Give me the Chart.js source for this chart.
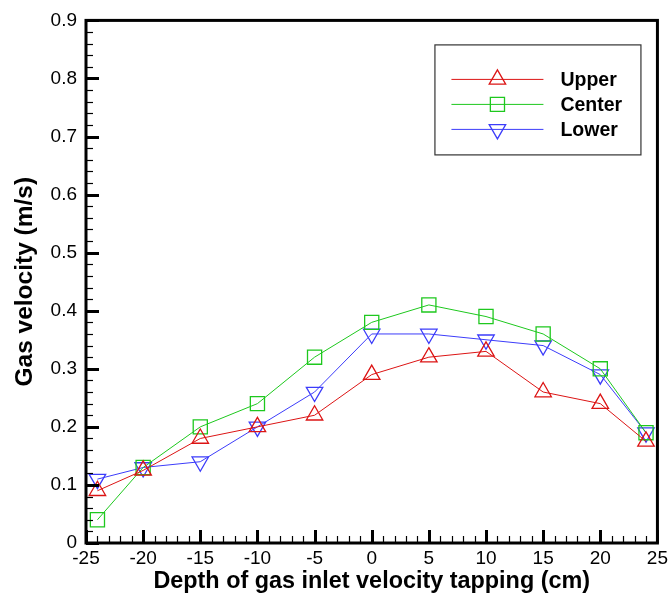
<!DOCTYPE html>
<html>
<head>
<meta charset="utf-8">
<script src="https://cdn.jsdelivr.net/npm/chart.js@4/dist/chart.umd.min.js"></script>
<style>
  body { margin: 0; background: #fff; }
  canvas { display: block; }
</style>
</head>
<body>
<canvas id="myChart" width="672" height="596"></canvas>
<script>
    // depth positions (cm) and measured velocities (m/s)
    const depths = [-24, -20, -15, -10, -5, 0, 5, 10, 15, 20, 24];
    const upper  = [0.09, 0.125, 0.18, 0.20, 0.22, 0.29, 0.32, 0.33, 0.26, 0.24, 0.175];
    const center = [0.04, 0.13, 0.20, 0.24, 0.32, 0.38, 0.41, 0.39, 0.36, 0.30, 0.19];
    const lower  = [0.11, 0.13, 0.14, 0.20, 0.26, 0.36, 0.36, 0.35, 0.34, 0.29, 0.19];

    const xTicks = [-25, -20, -15, -10, -5, 0, 5, 10, 15, 20, 25];
    const yTicks = [0, 0.1, 0.2, 0.3, 0.4, 0.5, 0.6, 0.7, 0.8, 0.9];

    const FONT = 'Arial, "Liberation Sans", sans-serif';

    const toPoints = (vals) => depths.map((d, i) => ({ x: d, y: vals[i] }));

    const series = [
      { label: 'Upper',  vals: upper,  color: 'rgb(220, 20, 20)', style: 'triangle', rot: 0,   r: 9.5 },
      { label: 'Center', vals: center, color: 'rgb(30, 200, 30)', style: 'rect',     rot: 0,   r: 10 },
      { label: 'Lower',  vals: lower,  color: 'rgb(60, 60, 250)', style: 'triangle', rot: 180, r: 9.5 },
    ];

    const data = {
      datasets: series.map(s => ({
        label: s.label,
        data: toPoints(s.vals),
        borderColor: s.color,
        backgroundColor: 'rgba(0,0,0,0)',
        borderWidth: 1,
        pointStyle: s.style,
        pointRotation: s.rot,
        pointRadius: s.r,
        pointBorderWidth: 1.3,
        pointBorderColor: s.color,
        pointBackgroundColor: 'rgba(0,0,0,0)',
        tension: 0,
      })),
    };

    // box frame plus inward ticks (major + minor) on left and bottom
    const framePlugin = {
      id: 'frame',
      afterDatasetsDraw(chart) {
        const { ctx, chartArea: a, scales: { x, y } } = chart;
        ctx.save();
        ctx.strokeStyle = '#000';
        ctx.lineWidth = 1.2;
        for (let i = 0; i <= 50; i++) {
          const px = Math.round(x.getPixelForValue(-25 + i)) + 0.5;
          ctx.beginPath(); ctx.moveTo(px, a.bottom); ctx.lineTo(px, a.bottom - 7); ctx.stroke();
        }
        for (let i = 0; i <= 45; i++) {
          const py = Math.round(y.getPixelForValue(i * 0.02)) + 0.5;
          ctx.beginPath(); ctx.moveTo(a.left, py); ctx.lineTo(a.left + 7, py); ctx.stroke();
        }
        ctx.lineWidth = 3;
        xTicks.forEach(v => {
          const px = Math.round(x.getPixelForValue(v)) + 0.5;
          ctx.beginPath(); ctx.moveTo(px, a.bottom); ctx.lineTo(px, a.bottom - 13); ctx.stroke();
        });
        yTicks.forEach(v => {
          const py = Math.round(y.getPixelForValue(v)) + 0.5;
          ctx.beginPath(); ctx.moveTo(a.left, py); ctx.lineTo(a.left + 13, py); ctx.stroke();
        });
        ctx.lineWidth = 3;
        ctx.strokeRect(a.left, a.top, a.right - a.left, a.bottom - a.top);
        ctx.restore();
      }
    };

    function marker(ctx, style, rot, r, cx, cy) {
      ctx.beginPath();
      if (style === 'rect') {
        const s = r * Math.SQRT1_2;
        ctx.rect(cx - s, cy - s, 2 * s, 2 * s);
      } else {
        let ang = rot * Math.PI / 180;
        ctx.moveTo(cx + Math.sin(ang) * r, cy - Math.cos(ang) * r);
        for (let k = 0; k < 2; k++) {
          ang += 2 * Math.PI / 3;
          ctx.lineTo(cx + Math.sin(ang) * r, cy - Math.cos(ang) * r);
        }
        ctx.closePath();
      }
      ctx.stroke();
    }

    // boxed legend inside the plot, top right
    const legendPlugin = {
      id: 'boxLegend',
      afterDraw(chart) {
        const { ctx, chartArea: a } = chart;
        const bx = a.right - 223, by = a.top + 24, bw = 206, bh = 110;
        ctx.save();
        ctx.fillStyle = '#fff';
        ctx.fillRect(bx, by, bw, bh);
        ctx.strokeStyle = '#333';
        ctx.lineWidth = 1.2;
        ctx.strokeRect(bx + 0.5, by + 0.5, bw, bh);
        ctx.font = 'bold 19.5px ' + FONT;
        ctx.textBaseline = 'middle';
        series.forEach((s, i) => {
          const ly = by + 35 + i * 25;
          ctx.strokeStyle = s.color;
          ctx.lineWidth = 1;
          ctx.beginPath(); ctx.moveTo(bx + 17, ly); ctx.lineTo(bx + 109, ly); ctx.stroke();
          ctx.lineWidth = 1.3;
          marker(ctx, s.style, s.rot, s.r, bx + 63, ly);
          ctx.fillStyle = '#000';
          ctx.fillText(s.label, bx + 126, ly + 1);
        });
        ctx.restore();
      }
    };

    const config = {
      type: 'line',
      data: data,
      options: {
        responsive: false,
        animation: false,
        layout: {
          padding: { left: 0, top: 18, right: 13, bottom: 0 },
        },
        scales: {
          x: {
            type: 'linear',
            min: -25,
            max: 25,
            afterBuildTicks: (scale) => { scale.ticks = xTicks.map(v => ({ value: v })); },
            afterFit: (scale) => { scale.height = 53; },
            grid: { display: false, drawTicks: false },
            border: { display: false },
            ticks: { color: '#000', font: { family: FONT, size: 19 }, padding: 4, maxRotation: 0 },
            title: {
              display: true,
              text: 'Depth of gas inlet velocity tapping (cm)',
              color: '#000',
              font: { family: FONT, size: 23.4, weight: 'bold' },
              padding: { top: 0, bottom: 0 },
            },
          },
          y: {
            type: 'linear',
            min: 0,
            max: 0.9,
            afterBuildTicks: (scale) => { scale.ticks = yTicks.map(v => ({ value: v })); },
            afterFit: (scale) => { scale.width = 86; },
            grid: { display: false, drawTicks: false },
            border: { display: false },
            ticks: { color: '#000', font: { family: FONT, size: 19 }, padding: 9 },
            title: {
              display: true,
              text: 'Gas velocity (m/s)',
              color: '#000',
              font: { family: FONT, size: 24.5, weight: 'bold' },
              padding: { top: 11, bottom: 0 },
            },
          },
        },
        plugins: {
          legend: { display: false },
          tooltip: { enabled: false },
        },
      },
      plugins: [framePlugin, legendPlugin],
    };

    const myChart = new Chart(document.getElementById('myChart'), config);
</script>
</body>
</html>
